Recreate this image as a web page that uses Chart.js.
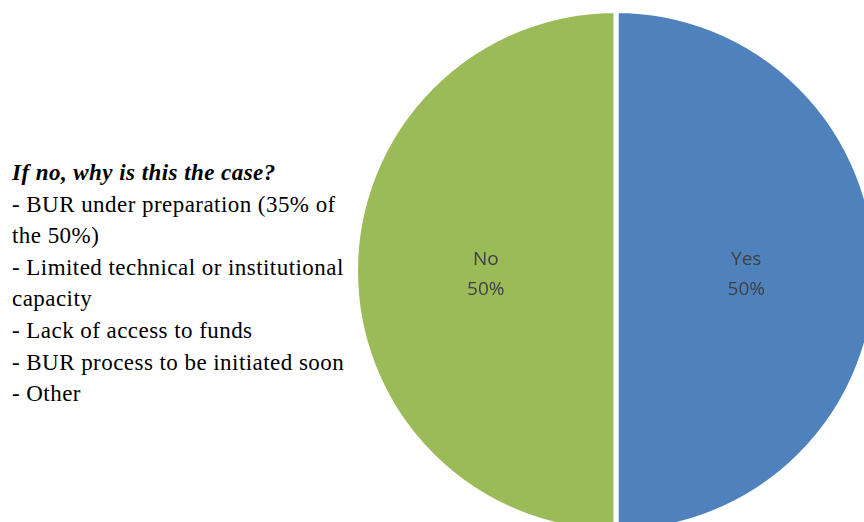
<!DOCTYPE html>
<html>
<head>
<meta charset="utf-8">
<script src="https://cdn.jsdelivr.net/npm/chart.js@4.4.1/dist/chart.umd.min.js"></script>
<style>
  html, body { margin: 0; padding: 0; background: #fff; }
  body { width: 864px; height: 522px; overflow: hidden; position: relative; }
  #note {
    position: absolute; left: 12px; top: 157px;
    font-family: "Liberation Serif", "Times New Roman", serif;
    font-size: 23px; line-height: 31.6px; color: #000;
    letter-spacing: 0.45px;
    white-space: nowrap;
  }
  #note .title { font-weight: bold; font-style: italic; }
  #pie_box { position: absolute; left: 353px; top: 8px; width: 526px; height: 526px; }
</style>
</head>
<body>
<div id="note"></div>
<div id="pie_box"><canvas id="pie_chart"></canvas></div>
<script>
var categories = ["Yes", "No"];
var shares = [50, 50];
var sliceColors = ["#4F81BD", "#9BBB59"];

var noteTitle = "If no, why is this the case?";
var noteLines = [
  "- BUR under preparation (35% of",
  "the 50%)",
  "- Limited technical or institutional",
  "capacity",
  "- Lack of access to funds",
  "- BUR process to be initiated soon",
  "- Other"
];

// side note
var note = document.getElementById("note");
var t = document.createElement("div");
t.className = "title";
t.textContent = noteTitle;
note.appendChild(t);
noteLines.forEach(function(line){
  var d = document.createElement("div");
  d.textContent = line;
  note.appendChild(d);
});

// category + percent written inside each slice
var sliceLabels = {
  id: "sliceLabels",
  afterDatasetsDraw: function(chart){
    var ctx = chart.ctx;
    var meta = chart.getDatasetMeta(0);
    var data = chart.data.datasets[0].data;
    var total = data.reduce(function(a, b){ return a + b; }, 0);
    ctx.save();
    ctx.fillStyle = "#404040";
    ctx.font = "19px 'Open Sans', sans-serif";
    ctx.textAlign = "center";
    ctx.textBaseline = "alphabetic";
    meta.data.forEach(function(arc, i){
      var p = arc.getCenterPoint();
      var pct = Math.round(data[i] / total * 100) + "%";
      ctx.fillText(chart.data.labels[i], p.x, p.y - 6);
      ctx.fillText(pct, p.x, p.y + 24);
    });
    ctx.restore();
  }
};

new Chart(document.getElementById("pie_chart"), {
  type: "pie",
  data: {
    labels: categories,
    datasets: [{
      data: shares,
      backgroundColor: sliceColors,
      borderColor: "#ffffff",
      borderWidth: 5
    }]
  },
  options: {
    responsive: true,
    maintainAspectRatio: false,
    animation: false,
    layout: { padding: 0 },
    plugins: {
      legend: { display: false },
      tooltip: { enabled: false }
    }
  },
  plugins: [sliceLabels]
});
</script>
</body>
</html>
